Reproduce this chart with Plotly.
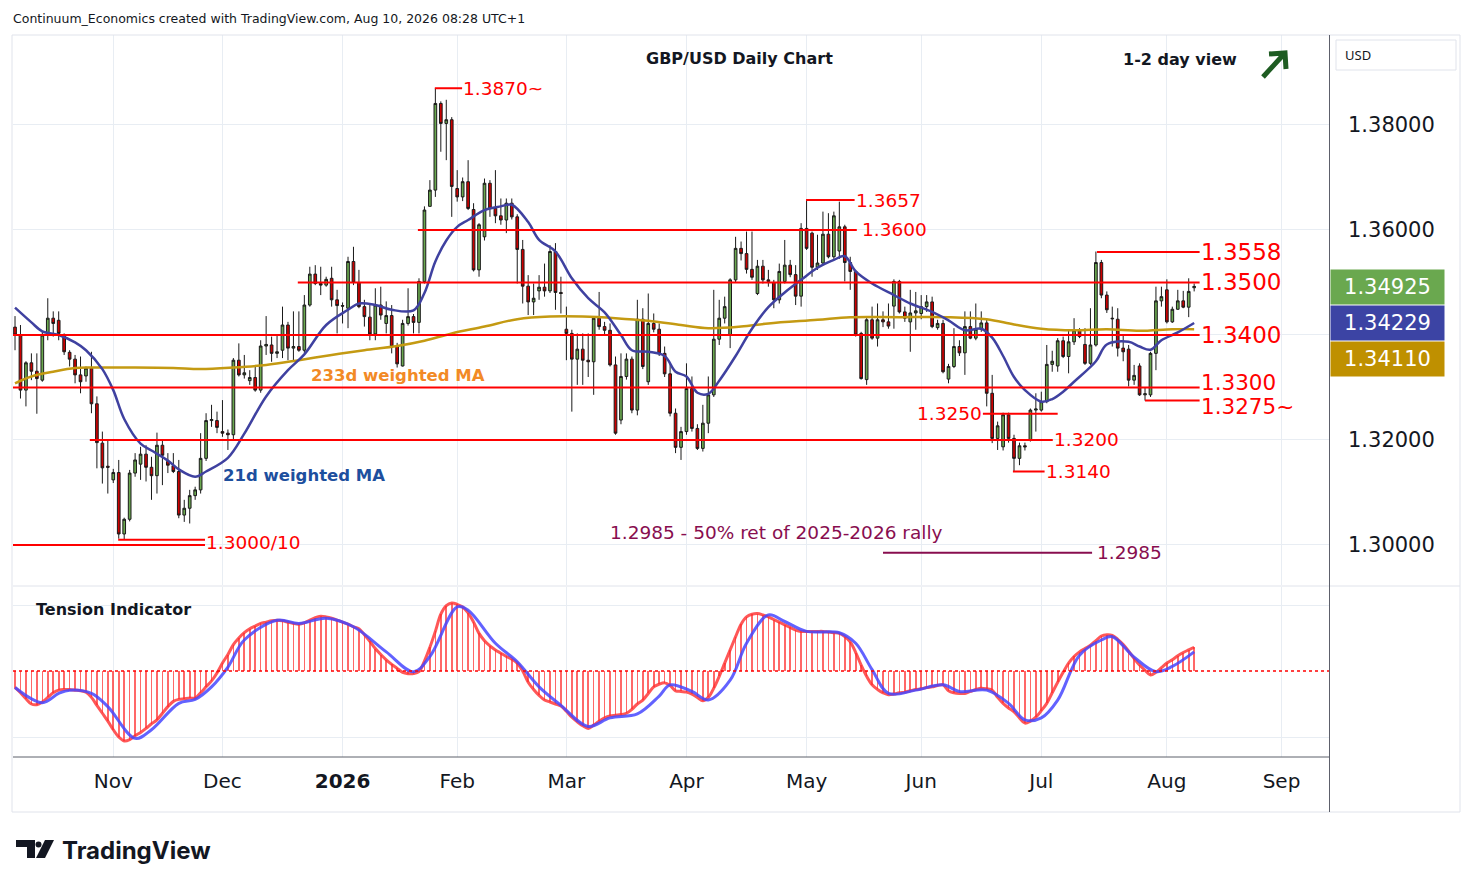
import pandas as pd
import plotly.graph_objects as go

# Page geometry (px) - plot area of the TradingView export
W, H = 1474, 887
L, R, T, B = 13, 1329, 35, 757
PAGE = 8   # browser body margin in front of the figure


def px(x):
    return (x - L) / (R - L)


def py(y):
    return (B - y) / (B - T)


holidays = ["2025-12-25", "2026-01-01"]
days = [d for d in pd.bdate_range("2025-10-08", "2026-09-30")
        if d.strftime("%Y-%m-%d") not in holidays]
DAY = pd.Timedelta(days=1)


def at(k):
    # fractional bar index -> timestamp on the trading-day axis
    i = max(int(k), 0)
    return days[i] + (k - i) * DAY


# ---- GBP/USD daily candles, 8 Oct 2025 .. 10 Aug 2026 ----
open_ = [
    1.3415, 1.3400, 1.3295, 1.3347, 1.3331, 1.3314, 1.3400, 1.3432, 1.3428, 1.3400,
    1.3367, 1.3354, 1.3324, 1.3322, 1.3337, 1.3269, 1.3194, 1.3150, 1.3124, 1.3138,
    1.3021, 1.3049, 1.3137, 1.3154, 1.3173, 1.3148, 1.3132, 1.3190, 1.3159, 1.3151,
    1.3140, 1.3057, 1.3070, 1.3094, 1.3105, 1.3165, 1.3237, 1.3237, 1.3216, 1.3213,
    1.3210, 1.3352, 1.3324, 1.3313, 1.3319, 1.3295, 1.3379, 1.3381, 1.3365, 1.3371,
    1.3419, 1.3375, 1.3378, 1.3371, 1.3457, 1.3516, 1.3498, 1.3495, 1.3508, 1.3467,
    1.3456, 1.3451, 1.3540, 1.3500, 1.3454, 1.3434, 1.3402, 1.3457, 1.3422, 1.3437,
    1.3378, 1.3341, 1.3422, 1.3435, 1.3424, 1.3502, 1.3645, 1.3676, 1.3841, 1.3803,
    1.3810, 1.3679, 1.3663, 1.3692, 1.3639, 1.3524, 1.3587, 1.3689, 1.3641, 1.3627,
    1.3619, 1.3651, 1.3625, 1.3563, 1.3493, 1.3463, 1.3484, 1.3491, 1.3484, 1.3559,
    1.3481, 1.3411, 1.3403, 1.3354, 1.3373, 1.3352, 1.3349, 1.3432, 1.3416, 1.3409,
    1.3343, 1.3238, 1.3321, 1.3354, 1.3257, 1.3430, 1.3311, 1.3422, 1.3411, 1.3365,
    1.3326, 1.3251, 1.3186, 1.3216, 1.3298, 1.3222, 1.3184, 1.3232, 1.3286, 1.3392,
    1.3432, 1.3400, 1.3505, 1.3565, 1.3555, 1.3525, 1.3479, 1.3531, 1.3505, 1.3500,
    1.3467, 1.3502, 1.3533, 1.3515, 1.3474, 1.3603, 1.3594, 1.3529, 1.3537, 1.3592,
    1.3549, 1.3560, 1.3606, 1.3538, 1.3521, 1.3403, 1.3315, 1.3429, 1.3394, 1.3429,
    1.3425, 1.3455, 1.3502, 1.3444, 1.3425, 1.3442, 1.3441, 1.3454, 1.3463, 1.3414,
    1.3422, 1.3316, 1.3340, 1.3378, 1.3366, 1.3416, 1.3394, 1.3411, 1.3423, 1.3289,
    1.3203, 1.3187, 1.3248, 1.3203, 1.3165, 1.3189, 1.3200, 1.3257, 1.3257, 1.3273,
    1.3344, 1.3341, 1.3389, 1.3359, 1.3387, 1.3409, 1.3382, 1.3346, 1.3381, 1.3538,
    1.3476, 1.3432, 1.3430, 1.3375, 1.3373, 1.3314, 1.3341, 1.3286, 1.3286, 1.3365,
    1.3465, 1.3486, 1.3425, 1.3449, 1.3465, 1.3453, 1.3490,
]
high = [
    1.3436, 1.3419, 1.3350, 1.3365, 1.3365, 1.3406, 1.3470, 1.3445, 1.3445, 1.3403,
    1.3371, 1.3362, 1.3359, 1.3340, 1.3368, 1.3283, 1.3216, 1.3200, 1.3145, 1.3162,
    1.3052, 1.3143, 1.3175, 1.3187, 1.3190, 1.3168, 1.3214, 1.3200, 1.3175, 1.3175,
    1.3162, 1.3086, 1.3105, 1.3111, 1.3213, 1.3251, 1.3267, 1.3254, 1.3276, 1.3220,
    1.3356, 1.3384, 1.3362, 1.3333, 1.3340, 1.3390, 1.3436, 1.3397, 1.3400, 1.3454,
    1.3425, 1.3445, 1.3445, 1.3476, 1.3530, 1.3533, 1.3530, 1.3511, 1.3530, 1.3486,
    1.3462, 1.3549, 1.3568, 1.3524, 1.3467, 1.3460, 1.3489, 1.3492, 1.3464, 1.3457,
    1.3385, 1.3429, 1.3489, 1.3440, 1.3508, 1.3645, 1.3695, 1.3870, 1.3845, 1.3848,
    1.3815, 1.3714, 1.3700, 1.3733, 1.3651, 1.3613, 1.3698, 1.3695, 1.3714, 1.3660,
    1.3660, 1.3660, 1.3630, 1.3581, 1.3514, 1.3498, 1.3514, 1.3536, 1.3571, 1.3575,
    1.3511, 1.3454, 1.3410, 1.3403, 1.3403, 1.3403, 1.3435, 1.3482, 1.3425, 1.3422,
    1.3359, 1.3365, 1.3365, 1.3359, 1.3467, 1.3451, 1.3479, 1.3441, 1.3422, 1.3378,
    1.3346, 1.3260, 1.3225, 1.3346, 1.3321, 1.3230, 1.3267, 1.3321, 1.3486, 1.3467,
    1.3473, 1.3508, 1.3587, 1.3578, 1.3597, 1.3597, 1.3543, 1.3543, 1.3524, 1.3505,
    1.3536, 1.3581, 1.3543, 1.3533, 1.3613, 1.3657, 1.3597, 1.3591, 1.3635, 1.3632,
    1.3635, 1.3654, 1.3610, 1.3549, 1.3524, 1.3406, 1.3432, 1.3454, 1.3460, 1.3445,
    1.3460, 1.3506, 1.3505, 1.3454, 1.3486, 1.3482, 1.3476, 1.3476, 1.3473, 1.3429,
    1.3429, 1.3345, 1.3413, 1.3390, 1.3445, 1.3445, 1.3460, 1.3445, 1.3429, 1.3324,
    1.3235, 1.3252, 1.3252, 1.3210, 1.3195, 1.3195, 1.3260, 1.3289, 1.3292, 1.3381,
    1.3370, 1.3394, 1.3397, 1.3409, 1.3432, 1.3413, 1.3413, 1.3451, 1.3559, 1.3543,
    1.3483, 1.3454, 1.3451, 1.3400, 1.3381, 1.3343, 1.3346, 1.3300, 1.3368, 1.3492,
    1.3492, 1.3506, 1.3454, 1.3486, 1.3484, 1.3508, 1.3498,
]
low = [
    1.3371, 1.3279, 1.3264, 1.3314, 1.3250, 1.3311, 1.3390, 1.3397, 1.3390, 1.3362,
    1.3340, 1.3308, 1.3289, 1.3311, 1.3251, 1.3146, 1.3117, 1.3098, 1.3118, 1.3012,
    1.3010, 1.3045, 1.3130, 1.3124, 1.3121, 1.3086, 1.3098, 1.3114, 1.3137, 1.3137,
    1.3051, 1.3044, 1.3041, 1.3086, 1.3098, 1.3160, 1.3225, 1.3213, 1.3206, 1.3181,
    1.3200, 1.3321, 1.3317, 1.3305, 1.3292, 1.3290, 1.3362, 1.3349, 1.3356, 1.3356,
    1.3352, 1.3349, 1.3368, 1.3366, 1.3454, 1.3495, 1.3476, 1.3492, 1.3454, 1.3403,
    1.3422, 1.3413, 1.3495, 1.3451, 1.3416, 1.3390, 1.3390, 1.3429, 1.3403, 1.3365,
    1.3338, 1.3340, 1.3418, 1.3403, 1.3403, 1.3498, 1.3645, 1.3663, 1.3749, 1.3733,
    1.3625, 1.3654, 1.3655, 1.3638, 1.3521, 1.3511, 1.3580, 1.3625, 1.3613, 1.3610,
    1.3594, 1.3620, 1.3498, 1.3460, 1.3438, 1.3438, 1.3467, 1.3473, 1.3480, 1.3448,
    1.3441, 1.3352, 1.3254, 1.3305, 1.3305, 1.3320, 1.3286, 1.3410, 1.3400, 1.3340,
    1.3210, 1.3230, 1.3315, 1.3251, 1.3247, 1.3335, 1.3305, 1.3405, 1.3360, 1.3320,
    1.3245, 1.3175, 1.3162, 1.3210, 1.3216, 1.3181, 1.3178, 1.3213, 1.3282, 1.3381,
    1.3422, 1.3375, 1.3500, 1.3542, 1.3517, 1.3505, 1.3476, 1.3498, 1.3492, 1.3451,
    1.3460, 1.3498, 1.3510, 1.3457, 1.3454, 1.3562, 1.3511, 1.3524, 1.3533, 1.3546,
    1.3545, 1.3545, 1.3502, 1.3486, 1.3397, 1.3315, 1.3305, 1.3391, 1.3378, 1.3415,
    1.3412, 1.3412, 1.3441, 1.3425, 1.3368, 1.3410, 1.3430, 1.3444, 1.3413, 1.3410,
    1.3327, 1.3308, 1.3337, 1.3360, 1.3324, 1.3392, 1.3390, 1.3406, 1.3264, 1.3194,
    1.3181, 1.3180, 1.3195, 1.3140, 1.3152, 1.3180, 1.3197, 1.3216, 1.3254, 1.3270,
    1.3330, 1.3330, 1.3356, 1.3327, 1.3381, 1.3394, 1.3343, 1.3343, 1.3378, 1.3470,
    1.3442, 1.3378, 1.3359, 1.3350, 1.3302, 1.3305, 1.3284, 1.3275, 1.3282, 1.3333,
    1.3454, 1.3422, 1.3423, 1.3448, 1.3451, 1.3434, 1.3483,
]
close = [
    1.3400, 1.3295, 1.3347, 1.3331, 1.3317, 1.3400, 1.3432, 1.3422, 1.3403, 1.3368,
    1.3354, 1.3324, 1.3311, 1.3337, 1.3269, 1.3195, 1.3147, 1.3148, 1.3138, 1.3021,
    1.3049, 1.3137, 1.3162, 1.3173, 1.3148, 1.3132, 1.3190, 1.3171, 1.3152, 1.3140,
    1.3057, 1.3070, 1.3094, 1.3105, 1.3165, 1.3237, 1.3239, 1.3224, 1.3213, 1.3210,
    1.3352, 1.3324, 1.3328, 1.3319, 1.3295, 1.3379, 1.3382, 1.3365, 1.3368, 1.3419,
    1.3375, 1.3378, 1.3371, 1.3457, 1.3516, 1.3498, 1.3495, 1.3506, 1.3467, 1.3456,
    1.3455, 1.3540, 1.3500, 1.3454, 1.3435, 1.3402, 1.3457, 1.3438, 1.3437, 1.3378,
    1.3345, 1.3422, 1.3435, 1.3424, 1.3502, 1.3638, 1.3676, 1.3841, 1.3803, 1.3810,
    1.3683, 1.3663, 1.3692, 1.3641, 1.3524, 1.3610, 1.3689, 1.3641, 1.3627, 1.3619,
    1.3651, 1.3625, 1.3563, 1.3493, 1.3463, 1.3470, 1.3491, 1.3484, 1.3559, 1.3481,
    1.3479, 1.3403, 1.3354, 1.3373, 1.3352, 1.3349, 1.3432, 1.3416, 1.3409, 1.3343,
    1.3213, 1.3321, 1.3354, 1.3257, 1.3430, 1.3340, 1.3422, 1.3411, 1.3365, 1.3326,
    1.3251, 1.3186, 1.3216, 1.3298, 1.3222, 1.3184, 1.3232, 1.3286, 1.3392, 1.3432,
    1.3454, 1.3505, 1.3565, 1.3555, 1.3525, 1.3510, 1.3531, 1.3505, 1.3502, 1.3467,
    1.3521, 1.3533, 1.3515, 1.3474, 1.3603, 1.3565, 1.3529, 1.3537, 1.3592, 1.3549,
    1.3627, 1.3606, 1.3538, 1.3521, 1.3400, 1.3317, 1.3429, 1.3394, 1.3429, 1.3425,
    1.3417, 1.3502, 1.3444, 1.3432, 1.3442, 1.3446, 1.3454, 1.3463, 1.3416, 1.3422,
    1.3330, 1.3340, 1.3378, 1.3366, 1.3416, 1.3394, 1.3411, 1.3423, 1.3289, 1.3203,
    1.3227, 1.3248, 1.3203, 1.3165, 1.3189, 1.3187, 1.3257, 1.3259, 1.3273, 1.3344,
    1.3350, 1.3389, 1.3359, 1.3387, 1.3409, 1.3397, 1.3346, 1.3381, 1.3538, 1.3476,
    1.3448, 1.3431, 1.3375, 1.3368, 1.3314, 1.3323, 1.3286, 1.3288, 1.3365, 1.3465,
    1.3473, 1.3425, 1.3449, 1.3465, 1.3453, 1.3483, 1.34925,
]

# moving averages (bar index, value)
ma21_idx = [0, 3, 5, 8, 11, 13, 16, 18, 20, 23, 25, 28, 30, 33, 35, 39, 42, 46, 50, 53,
            57, 61, 63, 66, 69, 73, 75, 77, 79, 81, 83, 86, 89, 91, 94, 96, 99, 102, 105, 108,
            111, 113, 116, 119, 121, 123, 125, 127, 129, 132, 135, 138, 141, 144, 147, 150, 152, 154, 157, 161,
            164, 168, 171, 174, 177, 179, 181, 183, 185, 188, 190, 192, 194, 198, 200, 204, 206, 208, 210, 213,
            216]
ma21 = [1.3452, 1.3424, 1.3407, 1.3400, 1.3386, 1.3371, 1.3335, 1.3295, 1.3240, 1.3193,
        1.3180, 1.3161, 1.3144, 1.3130, 1.3140, 1.3166, 1.3212, 1.3283, 1.3333, 1.3363,
        1.3419, 1.3448, 1.3460, 1.3457, 1.3448, 1.3447, 1.3480, 1.3540, 1.3580, 1.3606,
        1.3619, 1.3638, 1.3645, 1.3648, 1.3615, 1.3581, 1.3559, 1.3508, 1.3470, 1.3443,
        1.3400, 1.3371, 1.3368, 1.3360, 1.3330, 1.3321, 1.3290, 1.3288, 1.3313, 1.3360,
        1.3412, 1.3453, 1.3481, 1.3505, 1.3528, 1.3543, 1.3550, 1.3521, 1.3498, 1.3476,
        1.3460, 1.3444, 1.3428, 1.3409, 1.3412, 1.3395, 1.3360, 1.3320, 1.3295, 1.3273,
        1.3278, 1.3292, 1.3311, 1.3350, 1.3382, 1.3387, 1.3378, 1.3372, 1.3390, 1.3405,
        1.34229]
ma233_idx = [0, 3, 7, 11, 14, 22, 29, 34, 40, 46, 52, 58, 64, 70, 75, 80, 86, 92, 98, 104,
             110, 116, 122, 127, 133, 138, 147, 153, 162, 171, 178, 183, 188, 194, 200, 206, 212, 216]
ma233 = [1.3308, 1.3321, 1.3330, 1.3337, 1.3338, 1.3338, 1.3337, 1.3335, 1.3338, 1.3343,
         1.3352, 1.3362, 1.3371, 1.3379, 1.3389, 1.3403, 1.3416, 1.3430, 1.3435, 1.3435,
         1.3432, 1.3427, 1.3419, 1.3413, 1.3416, 1.3422, 1.3429, 1.3434, 1.3434, 1.3434,
         1.3430, 1.3420, 1.3412, 1.3409, 1.3411, 1.3408, 1.3411, 1.34110]

# tension indicator (one value per bar) and its signal line
tension = [
    -0.25, -0.33, -0.42, -0.50, -0.51, -0.47, -0.40, -0.33, -0.29, -0.28,
    -0.28, -0.29, -0.30, -0.32, -0.40, -0.52, -0.64, -0.76, -0.89, -1.00,
    -1.06, -1.04, -0.98, -0.93, -0.87, -0.80, -0.74, -0.64, -0.54, -0.46,
    -0.43, -0.42, -0.41, -0.41, -0.33, -0.24, -0.15, -0.03, 0.12, 0.25,
    0.40, 0.50, 0.58, 0.64, 0.68, 0.72, 0.74, 0.76, 0.77, 0.76,
    0.74, 0.72, 0.71, 0.73, 0.77, 0.81, 0.83, 0.82, 0.80, 0.77,
    0.74, 0.71, 0.67, 0.64, 0.55, 0.45, 0.34, 0.25, 0.17, 0.10,
    0.04, -0.02, -0.04, -0.04, -0.01, 0.15, 0.36, 0.60, 0.86, 0.99,
    1.03, 1.01, 0.97, 0.88, 0.74, 0.57, 0.46, 0.38, 0.32, 0.27,
    0.22, 0.18, 0.12, 0.00, -0.17, -0.28, -0.37, -0.44, -0.47, -0.50,
    -0.53, -0.61, -0.70, -0.77, -0.83, -0.87, -0.82, -0.76, -0.71, -0.68,
    -0.67, -0.66, -0.64, -0.58, -0.50, -0.44, -0.34, -0.24, -0.20, -0.18,
    -0.22, -0.30, -0.31, -0.32, -0.35, -0.40, -0.45, -0.40, -0.26, -0.08,
    0.12, 0.32, 0.52, 0.71, 0.82, 0.86, 0.87, 0.85, 0.82, 0.78,
    0.74, 0.70, 0.66, 0.62, 0.60, 0.60, 0.60, 0.60, 0.60, 0.59,
    0.58, 0.57, 0.52, 0.44, 0.28, 0.09, -0.08, -0.21, -0.28, -0.33,
    -0.36, -0.35, -0.33, -0.32, -0.30, -0.28, -0.27, -0.25, -0.24, -0.22,
    -0.21, -0.30, -0.33, -0.34, -0.34, -0.31, -0.28, -0.26, -0.27, -0.29,
    -0.40, -0.49, -0.56, -0.62, -0.71, -0.79, -0.76, -0.70, -0.60, -0.49,
    -0.33, -0.17, -0.02, 0.12, 0.22, 0.29, 0.34, 0.39, 0.46, 0.53,
    0.55, 0.54, 0.48, 0.40, 0.30, 0.19, 0.09, 0.01, -0.06, -0.02,
    0.05, 0.12, 0.17, 0.23, 0.28, 0.32, 0.36,
]
sig_idx = [0, 5, 8, 10, 14, 17, 22, 25, 30, 33, 36, 39, 42, 48, 52, 57, 62, 68, 73, 76,
           81, 83, 88, 92, 96, 100, 105, 109, 114, 118, 120, 124, 127, 131, 134, 138, 141, 145, 151, 154,
           157, 160, 165, 170, 173, 178, 182, 185, 188, 191, 195, 199, 201, 205, 209, 212, 216]
signal = [-0.25, -0.48, -0.34, -0.29, -0.34, -0.54, -1.02, -0.89, -0.49, -0.43,
          -0.24, 0.06, 0.47, 0.77, 0.72, 0.80, 0.67, 0.29, -0.01, 0.22,
          0.97, 0.92, 0.42, 0.14, -0.24, -0.52, -0.84, -0.71, -0.65, -0.38,
          -0.21, -0.31, -0.44, -0.14, 0.42, 0.85, 0.75, 0.60, 0.58, 0.42,
          0.02, -0.34, -0.29, -0.21, -0.31, -0.29, -0.49, -0.74, -0.71, -0.44,
          0.24, 0.47, 0.52, 0.21, -0.01, 0.07, 0.29]

# support / resistance levels and their labels
levels = [1.3870, 1.3657, 1.3600, 1.3558, 1.3500, 1.3400, 1.3300, 1.3275,
          1.3250, 1.3200, 1.3140, 1.3010, 1.3000]
level_text = ["1.3870~", "1.3657", "1.3600", "1.3558", "1.3500", "1.3400", "1.3300", "1.3275~",
              "1.3250", "1.3200", "1.3140", None, "1.3000/10"]
retrace = 1.2985
retrace_text = "1.2985 - 50% ret of 2025-2026 rally"

price_ticks = [1.30, 1.32, 1.34, 1.36, 1.38]
month_idx = [18, 38, 60, 81, 101, 123, 145, 166, 188, 211, 232]
month_text = ["Nov", "Dec", "2026", "Feb", "Mar", "Apr", "May", "Jun", "Jul", "Aug", "Sep"]

# ---------------------------------------------------------------
GRID = "#e8edf3"
FONT = "DejaVu Sans"
RED = "#ff0000"
MAROON = "#880e4f"
n = len(close)
xs = days[:n]

fig = go.Figure()
fig.add_trace(go.Candlestick(
    x=xs, open=open_, high=high, low=low, close=close,
    increasing=dict(line=dict(color="#1a1a1a", width=1), fillcolor="#6aa84f"),
    decreasing=dict(line=dict(color="#1a1a1a", width=1), fillcolor="#cc0000"),
    whiskerwidth=0, showlegend=False))
fig.add_trace(go.Scatter(x=[days[i] for i in ma233_idx], y=ma233, mode="lines",
                         line=dict(color="#c49a12", width=2.5, shape="spline"), showlegend=False))
fig.add_trace(go.Scatter(x=[days[i] for i in ma21_idx], y=ma21, mode="lines",
                         line=dict(color="#3f41a0", width=2.5, shape="spline"), showlegend=False))

fig.add_trace(go.Bar(x=xs, y=tension, width=0.3 * 86400000, xaxis="x2", yaxis="y2",
                     marker=dict(color="rgba(255,40,40,0.7)", line=dict(width=0)), showlegend=False))
fig.add_trace(go.Scatter(x=xs, y=tension, mode="lines", xaxis="x2", yaxis="y2",
                         line=dict(color="rgba(255,45,45,0.8)", width=3, shape="spline"), showlegend=False))
fig.add_trace(go.Scatter(x=[days[i] for i in sig_idx], y=signal, mode="lines", xaxis="x2", yaxis="y2",
                         line=dict(color="rgba(70,70,255,0.85)", width=3, shape="spline"), showlegend=False))

xcommon = dict(range=[at(-0.37), at(240.7)],
               rangebreaks=[dict(bounds=["sat", "mon"]), dict(values=holidays)],
               tickvals=[days[i] for i in month_idx], showgrid=True, gridcolor=GRID,
               zeroline=False, ticks="", automargin=False, rangeslider=dict(visible=False))
fig.update_layout(
    width=W - PAGE, height=H - PAGE, autosize=False,
    margin=dict(l=L - PAGE, r=W - R, t=T - PAGE, b=H - B),
    paper_bgcolor="white", plot_bgcolor="white", bargap=0,
    xaxis=dict(**xcommon, anchor="y", showticklabels=False),
    xaxis2=dict(**xcommon, anchor="y2", matches="x",
                ticktext=["<b>%s</b>" % t if t.isdigit() else t for t in month_text],
                tickfont=dict(family=FONT, size=20, color="#131722"), ticklabelstandoff=10),
    # the 1.34 label sits under the last-value boxes, so it is left blank
    yaxis=dict(domain=[py(585), 1], range=[1.29238, 1.39714], side="right", anchor="x",
               tickvals=price_ticks,
               ticktext=["" if abs(v - 1.34) < 1e-9 else "%.5f" % v for v in price_ticks],
               tickfont=dict(family=FONT, size=21, color="#131722"), ticklabelstandoff=18,
               showgrid=True, gridcolor=GRID, zeroline=False, ticks="", automargin=False),
    yaxis2=dict(domain=[0, py(587)], range=[-1.303, 1.2727], side="right", anchor="x2",
                tickvals=[-1, 1], showticklabels=False, showgrid=True, gridcolor=GRID,
                zeroline=False, automargin=False),
)

shapes = []
ann = []

# level lines (start/end given as bar positions)
spans = [(76.9, 81.9), (144.9, 153.8), (73.8, 154.2), (198.2, 217.0), (51.8, 217.0), (-0.4, 217.0),
         (-0.4, 217.0), (207.0, 217.0), (177.3, 191.0), (13.7, 190.1), (182.8, 188.6),
         (18.9, 34.8), (-0.4, 34.8)]
for p, (a, b) in zip(levels, spans):
    shapes.append(dict(type="line", xref="x", yref="y", x0=at(a), x1=at(b), y0=p, y1=p,
                       line=dict(color=RED, width=2)))
shapes.append(dict(type="line", xref="x", yref="y", x0=at(159.0), x1=at(197.3), y0=retrace, y1=retrace,
                   line=dict(color=MAROON, width=2)))

# level labels: (x position, anchor, size, y nudge)
label_pos = [(81.9, "left", 18.5, 0), (153.8, "left", 18.5, 0), (154.9, "left", 18.5, 0),
             (217.0, "left", 23, 0), (217.0, "left", 23, 0), (217.0, "left", 23, 0),
             (217.0, "left", 21.5, 5), (217.0, "left", 21.5, -6), (177.3, "right", 18.5, 0),
             (190.1, "left", 18.5, 0), (188.6, "left", 18.5, 0), None, (34.8, "left", 18.5, 2)]
for p, t, pos in zip(levels, level_text, label_pos):
    if t is None:
        continue
    k, anc, size, dy = pos
    ann.append(dict(x=at(k), y=p, xref="x", yref="y", text=t, showarrow=False, xanchor=anc,
                    yanchor="middle", yshift=dy, borderpad=0,
                    font=dict(family=FONT, size=size, color=RED)))
ann.append(dict(x=at(197.3), y=retrace, xref="x", yref="y", text="%.4f" % retrace, showarrow=False,
                xanchor="left", yanchor="middle", xshift=3, font=dict(family=FONT, size=18.5, color=MAROON)))
ann.append(dict(x=at(108.6), y=1.30247, xref="x", yref="y", text=retrace_text, showarrow=False,
                xanchor="left", yanchor="middle", font=dict(family=FONT, size=18.5, color=MAROON)))
ann.append(dict(x=at(53.8), y=1.33237, xref="x", yref="y", text="<b>233d weighted MA</b>", showarrow=False,
                xanchor="left", yanchor="middle", font=dict(family=FONT, size=16.5, color="#f28a26")))
ann.append(dict(x=at(37.7), y=1.31333, xref="x", yref="y", text="<b>21d weighted MA</b>", showarrow=False,
                xanchor="left", yanchor="middle", font=dict(family=FONT, size=16.5, color="#1d4f9e")))


def text_px(x, y, text, size, anchor="left", family=FONT, color="#131722"):
    return dict(x=px(x), y=py(y), xref="paper", yref="paper", text=text, showarrow=False,
                xanchor=anchor, yanchor="middle", font=dict(family=family, size=size, color=color))


# headings
ann.append(text_px(739, 58, "<b>GBP/USD Daily Chart</b>", 16, "center"))
ann.append(text_px(1180, 59, "<b>1-2 day view</b>", 16, "center"))
ann.append(text_px(34, 609, "<b>Tension Indicator</b>", 16))
ann.append(text_px(11, 19, "Continuum_Economics created with TradingView.com, Aug 10, 2026 08:28 UTC+1", 12.5))
ann.append(text_px(60, 850, "<b>TradingView</b>", 24, family="Inter"))
ann.append(text_px(1343, 55, "USD", 13, family="Noto Sans"))

# last-value boxes on the price scale
boxes = [(close[-1], "#6aa84f", 287), (ma21[-1], "#3c44a4", 323), (ma233[-1], "#bf9000", 359)]
for v, c, yy in boxes:
    ann.append(dict(x=px(1330), y=py(yy), xref="paper", yref="paper", text="%.5f" % v, showarrow=False,
                    xanchor="left", yanchor="middle", bgcolor=c, width=109, height=30, borderpad=2,
                    font=dict(family=FONT, size=21, color="white")))

# frame, separators, zero line
shapes += [
    dict(type="rect", xref="paper", yref="paper", x0=px(12), x1=px(1460), y0=py(812), y1=py(35),
         line=dict(color="#e0e3eb", width=1)),
    dict(type="line", xref="paper", yref="paper", x0=px(13), x1=px(1460), y0=py(586), y1=py(586),
         line=dict(color="#e0e3eb", width=1)),
    dict(type="line", xref="paper", yref="paper", x0=px(13), x1=px(1329), y0=py(757), y1=py(757),
         line=dict(color="#5d606b", width=1)),
    dict(type="line", xref="paper", yref="paper", x0=px(1329.5), x1=px(1329.5), y0=py(812), y1=py(35),
         line=dict(color="#5d606b", width=1)),
    dict(type="line", xref="paper", yref="y2", x0=0, x1=1, y0=0, y1=0,
         line=dict(color=RED, width=1.5, dash="dot")),
    dict(type="rect", xref="paper", yref="paper", x0=px(1336), x1=px(1456), y0=py(70), y1=py(40),
         line=dict(color="#e0e3eb", width=1), fillcolor="white"),
]


def path(points, close_path=False):
    s = " ".join(("M" if i == 0 else "L") + " %.5f,%.5f" % (px(a), py(b)) for i, (a, b) in enumerate(points))
    return s + (" Z" if close_path else "")


# green "up" arrow
arrow = path([(1263, 77), (1284, 54)]) + " " + path([(1269, 54), (1285, 53), (1286, 69)])
shapes.append(dict(type="path", xref="paper", yref="paper", path=arrow,
                   line=dict(color="#1e5c22", width=5)))
# TradingView logo mark
shapes.append(dict(type="path", xref="paper", yref="paper",
                   path=path([(16, 840), (35, 840), (35, 858), (27, 858), (27, 847), (16, 847)], True),
                   fillcolor="#131722", line=dict(width=0)))
shapes.append(dict(type="circle", xref="paper", yref="paper", x0=px(35.5), x1=px(41.5),
                   y0=py(847.5), y1=py(841.5), fillcolor="#131722", line=dict(width=0)))
shapes.append(dict(type="path", xref="paper", yref="paper",
                   path=path([(45, 840), (54, 840), (45, 858), (36, 858)], True),
                   fillcolor="#131722", line=dict(width=0)))

fig.update_layout(shapes=shapes, annotations=ann)
fig.write_html("out.html")
